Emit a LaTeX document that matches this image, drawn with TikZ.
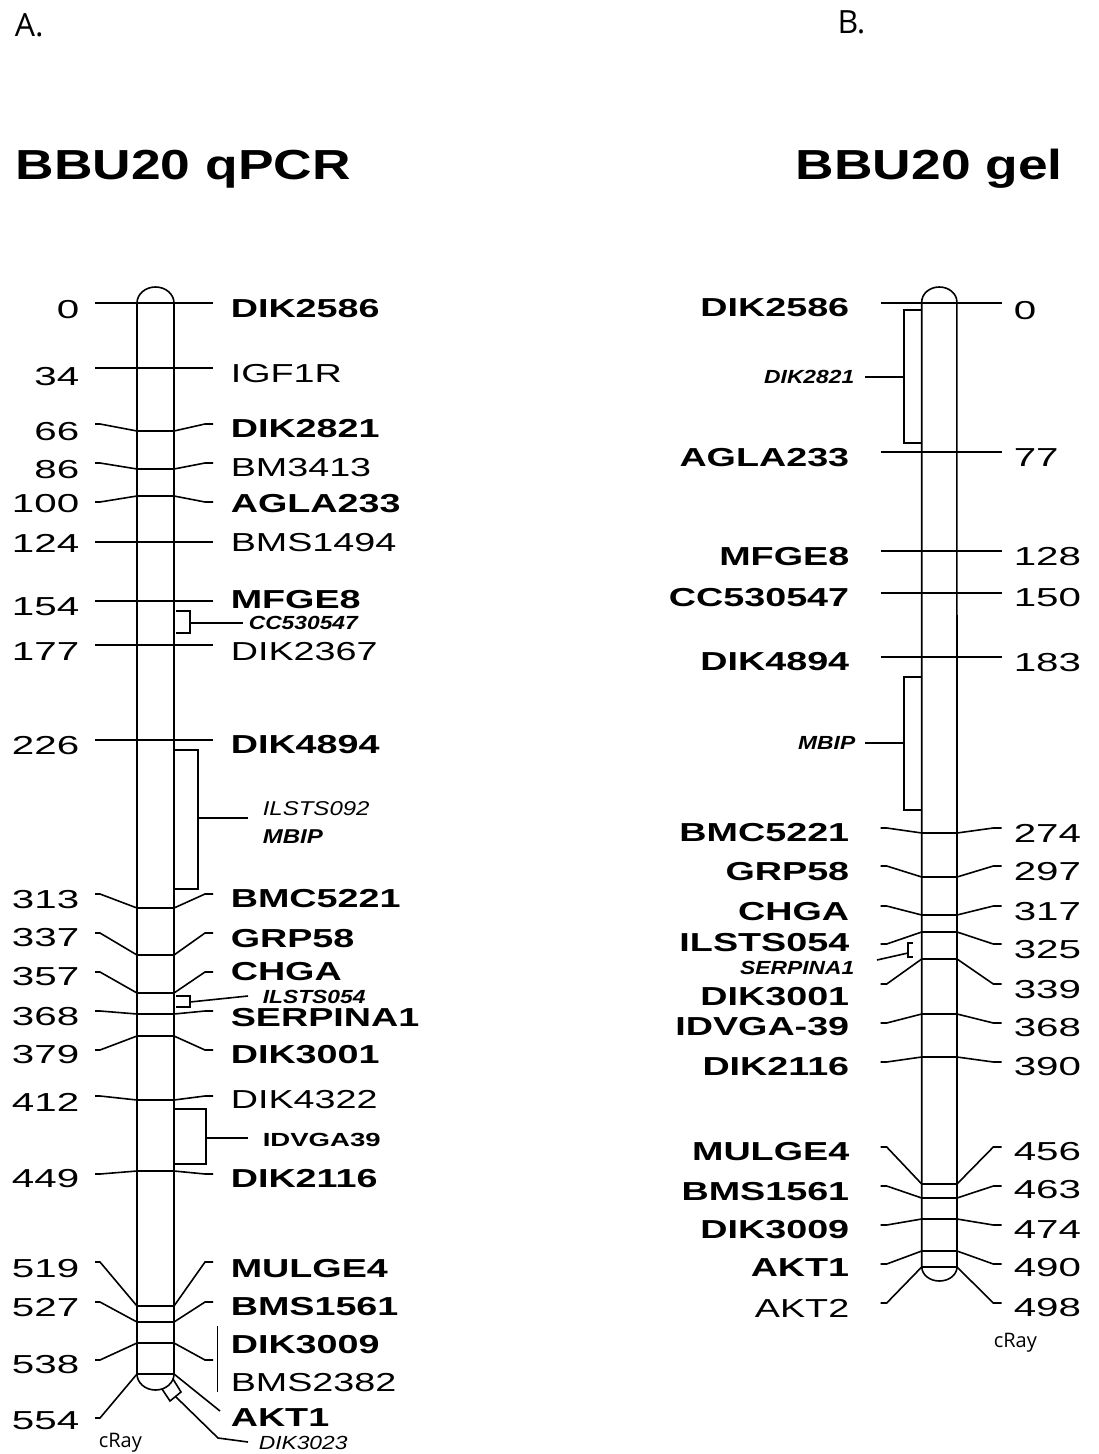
\documentclass[tikz,border=0pt]{standalone}
\usepackage{fontspec}
\setmainfont{Liberation Sans}
\newfontfamily\mapfont[FakeStretch=1.45]{Liberation Sans}
\newfontfamily\numfont[FakeStretch=1.55]{Liberation Sans}
\newfontfamily\notefont[FakeStretch=1.2]{Liberation Sans}
\newfontfamily\headfont[FakeStretch=1.27]{Liberation Sans}
\newfontfamily\panelfont{Open Sans}
\usepackage{tikz}

\begin{document}
\begin{tikzpicture}[
      x=0.5pt, y=-0.5pt, line width=0.8pt,
      numtxt/.style={font=\numfont\fontsize{13}{15}\selectfont, inner sep=0pt},
      labtxt/.style={font=\mapfont\fontsize{13}{15}\selectfont, inner sep=0pt},
      notetxt/.style={font=\notefont\fontsize{9.5}{11}\selectfont, inner sep=0pt},
      titletxt/.style={font=\headfont\bfseries\fontsize{21}{25}\selectfont, inner sep=0pt},
      paneltxt/.style={font=\panelfont\fontsize{16}{18}\selectfont, inner sep=0pt},
      raytxt/.style={font=\panelfont\fontsize{10}{12}\selectfont, inner sep=0pt}
    ]
    \useasboundingbox (0,0) rectangle (1098,1454);

    % A: qPCR map
    \node[paneltxt, anchor=base west] (pA) at (14,36.7) {A.};
    \node[titletxt, anchor=base west] (tA) at (15,180) {BBU20 qPCR};
    \draw (137,1374) -- (137,303)
      arc[start angle=180, end angle=0, x radius=9.25pt, y radius=8pt]
      -- (174,1374)
      arc[start angle=0, end angle=-180, x radius=9.25pt, y radius=8pt];
    \draw (137,1374) -- (174,1374);

    \foreach \n/\ny/\sl/\c/\sr/\ly/\lab in {
        0/310/303/303/303/309/\bfseries DIK2586,
        34/377/368/368/368/374/IGF1R,
        66/432/424/431/424/429/\bfseries DIK2821,
        86/470/463/469/463/468/BM3413,
        100/504/502/496/502/504/\bfseries AGLA233,
        124/543/542/542/542/543/BMS1494,
        154/607/601/601/601/600/\bfseries MFGE8,
        177/652/645/645/645/652/DIK2367,
        226/746/740/740/740/745/\bfseries DIK4894,
        313/900/894/908/894/899/\bfseries BMC5221,
        337/938/933/955/933/939/\bfseries GRP58,
        357/977/972/993/972/972/\bfseries CHGA,
        368/1017/1011/1014/1011/1018/\bfseries SERPINA1,
        379/1055/1050/1036/1050/1055/\bfseries DIK3001,
        412/1102/1096/1100/1096/1100/DIK4322,
        449/1179/1174/1171/1174/1179/\bfseries DIK2116,
        519/1269/1262/1306/1262/1269/\bfseries MULGE4,
        527/1308/1302/1322/1302/1307/\bfseries BMS1561,
        538/1365/1360/1343/1360/1345/\bfseries DIK3009}
    {
      \draw (95,\sl) -- (100,\sl) -- (137,\c) -- (174,\c) -- (205,\sr) -- (213,\sr);
      \node[numtxt, anchor=east] (an\n) at (80,\ny) {\n};
      \node[labtxt, anchor=west] (al\n) at (230,\ly) {\lab};
    }
    \draw (95,1418) -- (100,1418) -- (137,1374);
    \draw (174,1374) -- (220,1411);
    \node[numtxt, anchor=east] (an554) at (80,1421) {554};
    \node[labtxt, anchor=west] (al554) at (230,1418) {\bfseries AKT1};
    \draw[line width=0.5pt] (217,1326) -- (217,1392);
    \node[labtxt, anchor=west] (alBMS) at (230,1383) {BMS2382};

    \draw (176,611) -- (190,611) -- (190,633) -- (176,633);
    \draw (190,623) -- (243,623);
    \node[notetxt, anchor=west] (aCC) at (248,623) {\bfseries\itshape CC530547};
    \draw (174,750) -- (198,750) -- (198,889) -- (174,889);
    \draw (198,818) -- (248,818);
    \node[notetxt, font=\notefont\fontsize{10}{12}\selectfont, anchor=west] (aIL) at (262,809) {\itshape ILSTS092};
    \node[notetxt, font=\notefont\fontsize{10}{12}\selectfont, anchor=west] (aMB) at (262,837) {\bfseries\itshape MBIP};
    \draw (176,996) -- (190,996) -- (190,1007) -- (176,1007);
    \draw (190,1002) -- (248,996);
    \node[notetxt, anchor=west] (aIS) at (262,997) {\bfseries\itshape ILSTS054};
    \draw (174,1109) -- (206,1109) -- (206,1164) -- (174,1164);
    \draw (206,1138) -- (248,1138);
    \node[notetxt, font=\mapfont\bfseries\fontsize{9.5}{11}\selectfont, anchor=west] (aID) at (262,1140) {IDVGA39};
    \draw (162,1389) -- (170,1401) -- (181,1392) -- (173,1379);
    \draw (175.5,1396.5) -- (218,1438) -- (248,1442);
    \node[notetxt, anchor=west] (aDK) at (258,1443) {\itshape DIK3023};
    \node[raytxt, anchor=base west] (rA) at (98,1447) {cRay};

    % B: gel map
    \node[paneltxt, anchor=base west] (pB) at (836.7,33.3) {B.};
    \node[titletxt, anchor=base west] (tB) at (795,180) {BBU20 gel};
    \draw (921.7,1267) -- (921.7,302)
      arc[start angle=180, end angle=0, x radius=8.8pt, y radius=7.5pt]
      -- (957,1267)
      arc[start angle=0, end angle=-180, x radius=8.8pt, y radius=7pt];

    \foreach \n/\ny/\s/\c/\ly/\lab in {
        0/311/303/303/308/\bfseries DIK2586,
        77/458/452/452/458/\bfseries AGLA233,
        128/557/551/551/557/\bfseries MFGE8,
        150/598/593/593/598/\bfseries CC530547,
        183/663/657/657/662/\bfseries DIK4894,
        274/833/828/833/833/\bfseries BMC5221,
        297/872/866/877/872/\bfseries GRP58,
        317/912/906/915/912/\bfseries CHGA,
        325/950/944/932/943/\bfseries ILSTS054,
        339/990/984/959/997/\bfseries DIK3001,
        368/1028/1023/1014/1027/\bfseries IDVGA-39,
        390/1067/1062/1057/1067/\bfseries DIK2116,
        456/1152/1147/1184/1152/\bfseries MULGE4,
        463/1190/1186/1198/1192/\bfseries BMS1561,
        474/1230/1225/1219/1230/\bfseries DIK3009,
        490/1268/1264/1251/1268/\bfseries AKT1,
        498/1308/1303/1267/1308/AKT2}
    {
      \draw (880.7,\s) -- (886.7,\s) -- (921.7,\c) -- (957,\c) -- (993.3,\s) -- (1001.7,\s);
      \node[numtxt, anchor=west] (bn\n) at (1013,\ny) {\n};
      \node[labtxt, anchor=east] (bl\n) at (850,\ly) {\lab};
    }

    \draw (921,310) -- (904,310) -- (904,443) -- (921,443);
    \draw (904,377) -- (865,377);
    \node[notetxt, anchor=east] (bDK) at (855,377) {\bfseries\itshape DIK2821};
    \draw (921,677) -- (904,677) -- (904,810) -- (921,810);
    \draw (904,743) -- (865,743);
    \node[notetxt, anchor=east] (bMB) at (856,743) {\bfseries\itshape MBIP};
    \draw[line width=0.6pt] (913,943) -- (908,943) -- (908,957) -- (913,957);
    \draw (908,953) -- (877,960);
    \node[notetxt, anchor=east] (bSE) at (855,968) {\bfseries\itshape SERPINA1};
    \node[raytxt, anchor=base west] (rB) at (993,1347) {cRay};
  \end{tikzpicture}
\end{document}
